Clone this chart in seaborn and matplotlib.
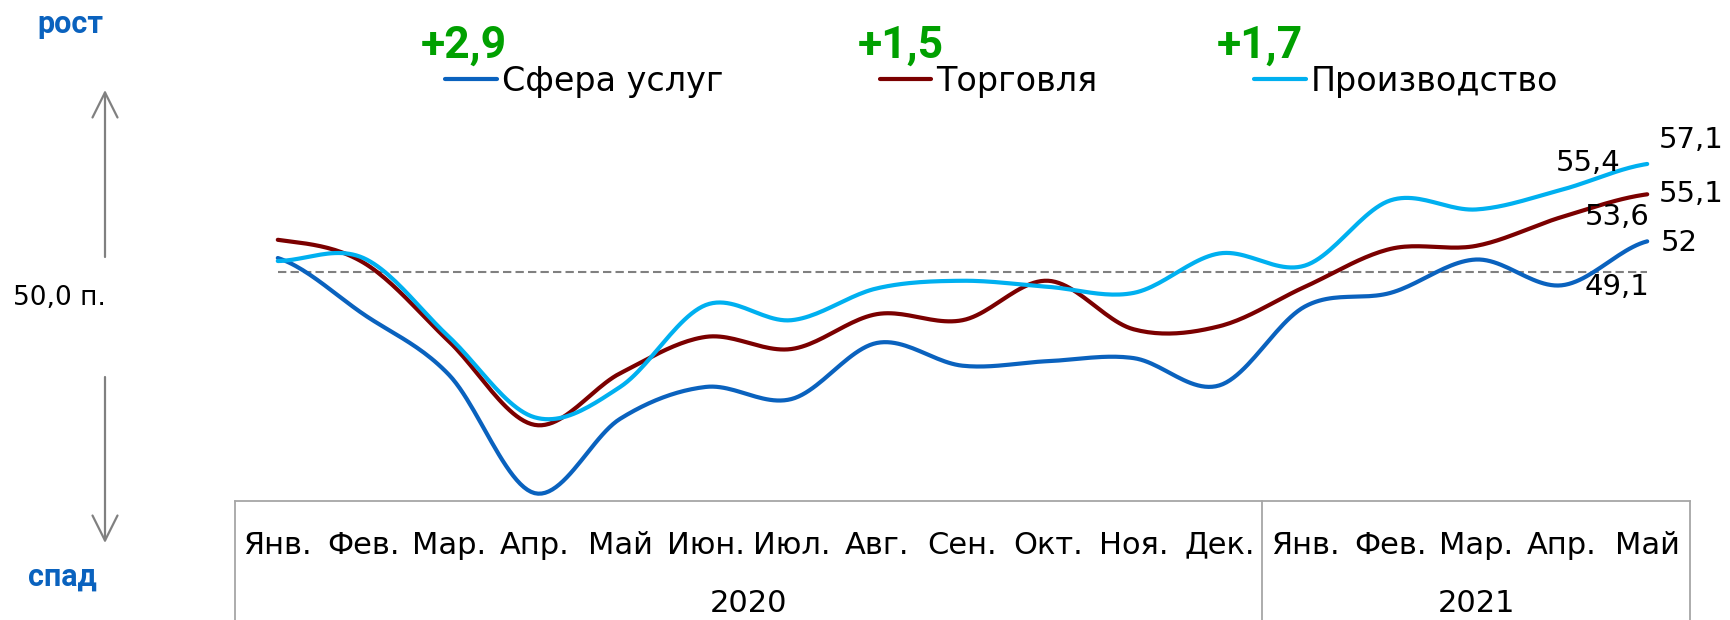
import numpy as np
import pandas as pd
import matplotlib.pyplot as plt
import seaborn as sns

# Месяцы и годы
months_2020 = ['Янв.', 'Фев.', 'Мар.', 'Апр.', 'Май', 'Июн.', 'Июл.', 'Авг.', 'Сен.', 'Окт.', 'Ноя.', 'Дек.']
months_2021 = ['Янв.', 'Фев.', 'Мар.', 'Апр.', 'Май']
years = ['2020', '2021']

# Индексы PMI
uslugi = [50.9, 47.2, 43.2, 35.4, 40.3, 42.4, 41.6, 45.3, 43.8, 44.1, 44.3, 42.5, 47.7, 48.6, 50.8, 49.1, 52.0]
torgovlya = [52.1, 50.6, 45.4, 39.9, 43.3, 45.7, 44.9, 47.2, 46.8, 49.4, 46.2, 46.4, 49.0, 51.5, 51.7, 53.6, 55.1]
proizvodstvo = [50.7, 50.9, 45.7, 40.4, 42.4, 47.8, 46.8, 48.9, 49.4, 49.0, 48.6, 51.2, 50.4, 54.7, 54.1, 55.4, 57.1]

series_names = ['Сфера услуг', 'Торговля', 'Производство']
changes = ['+2,9', '+1,5', '+1,7']
threshold = 50.0

paleta = ['#0A62BE', '#7B0000', '#00B0F0']
azul_txt = '#0A62BE'
verde = '#00A000'
gris = '#A6A6A6'


def smooth(y, n=24):
    # сглаживание как в Excel (Catmull-Rom), только для отрисовки
    y = np.asarray(y, float)
    p = np.concatenate([[y[0]], y, [y[-1]]])
    t = np.linspace(0, 1, n, endpoint=False)
    xs, ys = [], []
    for i in range(len(y) - 1):
        p0, p1, p2, p3 = p[i:i + 4]
        ys.append(0.5 * (2 * p1 + (-p0 + p2) * t + (2 * p0 - 5 * p1 + 4 * p2 - p3) * t ** 2
                         + (-p0 + 3 * p1 - 3 * p2 + p3) * t ** 3))
        xs.append(i + t)
    xs.append([len(y) - 1])
    ys.append([y[-1]])
    return np.concatenate(xs), np.concatenate(ys)


frames = []
for name, vals in zip(series_names, [uslugi, torgovlya, proizvodstvo]):
    xs, ys = smooth(vals)
    frames.append(pd.DataFrame({'x': xs, 'y': ys, 'serie': name}))
df = pd.concat(frames, ignore_index=True)

sns.set_style('white')
plt.rcParams['font.family'] = ['DejaVu Sans']
plt.rcParams['text.color'] = 'black'
plt.rcParams['xtick.color'] = 'black'

W, H = 1730, 620
fig = plt.figure(figsize=(W / 100, H / 100), dpi=100)
ax = fig.add_axes([235 / W, (H - 500.7) / H, 1455 / W, 500.7 / H])

sns.lineplot(data=df, x='x', y='y', hue='serie', palette=paleta, linewidth=3,
             sort=False, estimator=None, ax=ax)

n = len(uslugi)
ax.plot([0, n - 1], [threshold, threshold], ls=(0, (4, 2)), color='#808080', lw=1.5, zorder=1)

ax.set_xlim(-0.5, n - 0.5)
ax.set_ylim(34.90, 67.91)
ax.set_xlabel('')
ax.set_ylabel('')
ax.set_yticks([])
ax.set_xticks(range(n))
ax.set_xticklabels(months_2020 + months_2021, fontsize=22)
ax.tick_params(axis='x', length=0, pad=21.5)
for s in ['top', 'left', 'right']:
    ax.spines[s].set_visible(False)
ax.spines['bottom'].set_color(gris)
ax.spines['bottom'].set_linewidth(1.3)

# Таблица категорий
tr = ax.get_xaxis_transform()
for xv in [-0.5, len(months_2020) - 0.5, n - 0.5]:
    ax.plot([xv, xv], [0, -0.3], color=gris, lw=1.3, transform=tr, clip_on=False)
ax.text((len(months_2020) - 1) / 2, -0.206, years[0], transform=tr, ha='center', va='center', fontsize=22)
ax.text(len(months_2020) + (len(months_2021) - 1) / 2, -0.206, years[1], transform=tr,
        ha='center', va='center', fontsize=22)

# Подписи значений
etiquetas = [
    (n - 1, proizvodstvo[-1], (12, 24)),
    (n - 1, torgovlya[-1], (12, 0)),
    (n - 1, uslugi[-1], (14, -2)),
    (n - 2, proizvodstvo[-2], (-6, 27)),
    (n - 2, torgovlya[-2], (23, 0)),
    (n - 2, uslugi[-2], (23, -2)),
]
for xv, yv, off in etiquetas:
    txt = f'{yv:g}'.replace('.', ',')
    ax.annotate(txt, xy=(xv, yv), xytext=off, textcoords='offset pixels',
                ha='left', va='center', fontsize=21, annotation_clip=False)

# Легенда
sns.move_legend(ax, 'center left', bbox_to_anchor=(445 / W, 1 - 81 / H),
                bbox_transform=fig.transFigure, ncol=3, frameon=False, title=None,
                fontsize=24, handlelength=1.55, handletextpad=0.15, columnspacing=4.7,
                borderpad=0, borderaxespad=0)
for h in ax.get_legend().get_lines():
    h.set_linewidth(3)

# Изменения за месяц
for txt, xc in zip(changes, [464, 901, 1260]):
    fig.text(xc / W, 1 - 46 / H, txt, ha='center', va='center', color=verde,
             fontsize=32, fontweight='bold', family='Roboto')

# Левая шкала: рост / спад
fig.text(70 / W, 1 - 24 / H, 'рост', ha='center', va='center', color=azul_txt,
         fontsize=22, fontweight='bold', family='Roboto')
fig.text(62 / W, 1 - 577 / H, 'спад', ha='center', va='center', color=azul_txt,
         fontsize=22, fontweight='bold', family='Roboto')
fig.text(13 / W, 1 - 298 / H, '50,0 п.', ha='left', va='center', fontsize=19)

flecha = dict(arrowstyle='->,head_length=0.6,head_width=0.3', color='#808080', lw=1.6,
              mutation_scale=30, shrinkA=0, shrinkB=0)
ax.annotate('', xy=(105, H - 90), xycoords='figure pixels', xytext=(105, H - 257),
            textcoords='figure pixels', arrowprops=flecha, annotation_clip=False)
ax.annotate('', xy=(105, H - 543), xycoords='figure pixels', xytext=(105, H - 377),
            textcoords='figure pixels', arrowprops=flecha, annotation_clip=False)

fig.savefig('out.png', dpi=100)
